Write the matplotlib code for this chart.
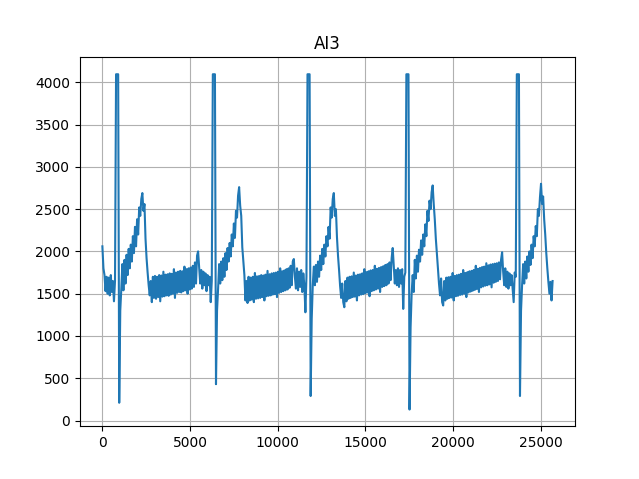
import numpy as np
import matplotlib.pyplot as plt

# ---- AI3-kanal, avlest hver 60. sample ----
step = 60

# slag 1 (start -> etter andre R-takk)
seg_a = [2060, 1800, 1720, 1530, 1700, 1500, 1690, 1480, 1720, 1520, 1650,
         1410, 1650, 4095, 4095, 4095, 210, 1300,
         1560, 1850, 1540, 1900, 1620, 1960, 1720, 2030, 1800, 2080, 1880, 2180,
         1980, 2290, 2060, 2380, 2200, 2520, 2420, 2620, 2690, 2480, 2560,
         2150, 1920, 1750, 1600, 1480, 1650, 1400,
         1700, 1450, 1710, 1440, 1700, 1460, 1720, 1410, 1715, 1465, 1760, 1470,
         1725, 1480, 1730, 1475, 1740, 1490, 1735, 1500, 1790, 1450, 1750, 1510,
         1760, 1520, 1770, 1515, 1765, 1530, 1820, 1540, 1790, 1500, 1800, 1550,
         1810, 1560, 1830, 1580, 1870,
         1620, 1950, 2000, 1800, 1620, 1780, 1560, 1760, 1600, 1740, 1530, 1720,
         1600, 1700, 1400, 1650, 4095, 4095, 4095, 430, 1300, 1560]

# slag 2
seg_b = [1850, 1620, 1880, 1660, 1920, 1700, 1980, 1780, 2040, 1880, 2100, 1940,
         2200, 2060, 2330, 2160, 2480, 2400, 2660, 2760, 2540, 2420, 2050, 1880,
         1720, 1420, 1650, 1390,
         1700, 1420, 1690, 1430, 1700, 1400, 1745, 1440, 1705, 1445, 1710, 1450,
         1720, 1460, 1715, 1420, 1725, 1470, 1770, 1475, 1730, 1480, 1740, 1490,
         1745, 1495, 1750, 1460, 1760, 1510, 1800, 1520, 1765, 1530, 1775, 1540,
         1790, 1550, 1800, 1570, 1830, 1600, 1880,
         1910, 1700, 1560, 1800, 1540, 1760, 1580, 1780, 1520, 1740, 1600, 1280,
         1700, 4095, 4095, 4095, 290, 1200, 1600]

# slag 3
seg_c = [1820, 1600, 1840, 1640, 1880, 1700, 1950, 1780, 2030, 1850, 2080, 1940,
         2180, 2060, 2290, 2150, 2520, 2400, 2620, 2690, 2420, 2500, 2170, 1950,
         1780, 1590, 1450, 1620, 1400, 1340,
         1650, 1410, 1690, 1440, 1700, 1450, 1705, 1460, 1750, 1465, 1715, 1420,
         1725, 1480, 1730, 1490, 1740, 1495, 1790, 1505, 1755, 1515, 1765, 1470,
         1775, 1530, 1780, 1540, 1830, 1550, 1795, 1560, 1805, 1520, 1815, 1580,
         1825, 1590, 1840, 1600, 1850, 1620, 1870, 1660,
         1920, 2040, 1820, 1620, 1780, 1600, 1800, 1580, 1780, 1620, 1790, 1320,
         1700, 1750, 4095, 4095, 4095, 130, 1100, 1500]

# slag 4
seg_d = [1720, 1520, 1900, 1680, 1950, 1760, 2020, 1880, 2130, 1960, 2200, 2060,
         2320, 2180, 2480, 2360, 2600, 2500, 2700, 2780, 2560, 2380, 2150, 1980,
         1800, 1620, 1480, 1680, 1400, 1360,
         1650, 1420, 1690, 1440, 1695, 1450, 1700, 1455, 1745, 1420, 1710, 1470,
         1720, 1475, 1725, 1485, 1735, 1490, 1780, 1500, 1745, 1460, 1755, 1515,
         1765, 1525, 1770, 1535, 1780, 1545, 1830, 1555, 1795, 1520, 1805, 1575,
         1815, 1585, 1820, 1595, 1860, 1600, 1835, 1610, 1845, 1575, 1850, 1630,
         1855, 1640, 1860, 1650, 1870, 1670, 1900,
         1990, 1760, 1600, 1800, 1580, 1760, 1560, 1740, 1600, 1720, 1560, 1400,
         1750, 1700, 4095, 4095, 4095, 290, 1300, 1600]

# slag 5 (T-bølge og slutt)
seg_e = [1850, 1620, 1880, 1680, 1940, 1760, 2000, 1840, 2080, 1920, 2180, 2060,
         2300, 2180, 2500, 2420, 2640, 2800, 2560, 2650, 2380, 2200, 1980, 1800,
         1640, 1500, 1640, 1420, 1650]

ai3 = np.array(seg_a + seg_b + seg_c + seg_d + seg_e, dtype=float)
n = np.arange(len(ai3)) * step

fig, ax = plt.subplots(figsize=(6.39, 4.79), dpi=100)
ax.plot(n, ai3)
ax.set_title("AI3")
ax.grid(True)

fig.savefig("out.png")
